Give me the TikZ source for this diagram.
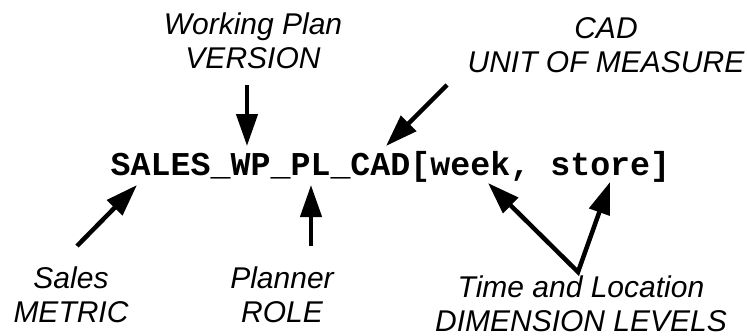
\documentclass[tikz,border=0pt]{standalone}
\usepackage{fontspec}
\setmainfont{Liberation Sans}
\newfontfamily\codefont{Liberation Mono}
\usetikzlibrary{arrows.meta}
\begin{document}
\begin{tikzpicture}[x=1pt,y=-1pt,
  lbl/.style={font=\fontsize{30}{34}\selectfont\itshape, align=center, inner sep=0pt, anchor=base},
  code/.style={font=\fontsize{33.3}{36}\selectfont\codefont\bfseries, inner sep=0pt, anchor=base},
  pointer/.style={line width=4.5pt, line join=miter, -{Triangle[length=32pt,width=21pt]}},
  twopointer/.style={line width=4.5pt, line join=miter, {Triangle[length=32pt,width=21pt]}-{Triangle[length=32pt,width=21pt]}}]
\useasboundingbox (0,0) rectangle (747,335);
\node[code] (code) at (390.5,175) {SALES\_WP\_PL\_CAD[week, store]};
\node[lbl] (wp) at (253,68) {Working Plan\\VERSION};
\node[lbl] (cad) at (606,72) {CAD\\UNIT OF MEASURE};
\node[lbl] (sales) at (71,322) {Sales\\METRIC};
\node[lbl] (planner) at (282,322) {Planner\\ROLE};
\node[lbl] (time) at (581,331.5) {Time and Location\\DIMENSION LEVELS};
\coordinate (wpT) at (247,85);
\coordinate (wpH) at (247,146);
\coordinate (cadT) at (447,85);
\coordinate (cadH) at (386,146);
\coordinate (salesT) at (77,246);
\coordinate (salesH) at (137,185);
\coordinate (plT) at (311,246);
\coordinate (plH) at (311,185);
\coordinate (tmT) at (578,272);
\coordinate (weekH) at (488,183);
\coordinate (storeH) at (610,182);
\draw[pointer] (wpT) -- (wpH);
\draw[pointer] (cadT) -- (cadH);
\draw[pointer] (salesT) -- (salesH);
\draw[pointer] (plT) -- (plH);
\draw[twopointer] (weekH) -- (tmT) -- (storeH);
\end{tikzpicture}
\end{document}
